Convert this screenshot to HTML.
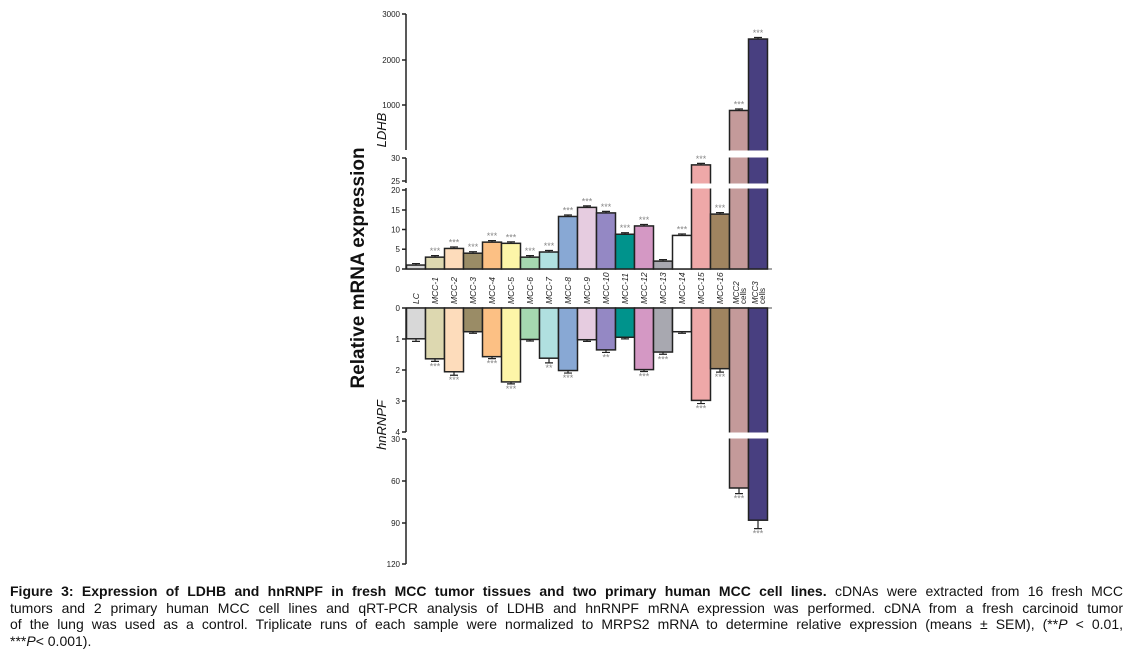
<!DOCTYPE html>
<html><head><meta charset="utf-8"><style>
body{margin:0;background:#fff;width:1133px;height:655px;overflow:hidden;font-family:"Liberation Sans",sans-serif}
#cap{position:absolute;left:10px;top:583px;width:1113px;font-size:14px;line-height:16.7px;color:#111}
#cap div{text-align:justify;text-align-last:justify;white-space:nowrap}
#cap div.l{text-align-last:left}
</style></head><body>
<svg id="s" width="1133" height="575" style="position:absolute;left:0;top:0" font-family="Liberation Sans, sans-serif"></svg>
<div id="cap">
<div><b>Figure 3: Expression of LDHB and hnRNPF in fresh MCC tumor tissues and two primary human MCC cell lines.</b> cDNAs were extracted from 16 fresh MCC</div>
<div>tumors and 2 primary human MCC cell lines and qRT-PCR analysis of LDHB and hnRNPF mRNA expression was performed. cDNA from a fresh carcinoid tumor</div>
<div>of the lung was used as a control. Triplicate runs of each sample were normalized to MRPS2 mRNA to determine relative expression (means ± SEM), (**<i>P</i> &lt; 0.01,</div>
<div class="l">***<i>P</i>&lt; 0.001).</div>
</div>
<script>
(function(){
var names=["LC","MCC-1","MCC-2","MCC-3","MCC-4","MCC-5","MCC-6","MCC-7","MCC-8","MCC-9","MCC-10","MCC-11","MCC-12","MCC-13","MCC-14","MCC-15","MCC-16","MCC2|cells","MCC3|cells"];
var cols=["#d8d8d8","#ddd8b0","#fddcbb","#9a8c66","#fcc084","#fdf5a8","#a5d8b0","#b0e0e0","#88a8d4","#e6cce0","#9488c4","#00938c","#d498c4","#a8a8b0","#ffffff","#eea8a8","#a08460","#c49a9a","#483f80"];
var tv=[1,3,5.2,4,6.8,6.5,3,4.3,13.3,15.6,14.2,8.8,10.9,2,8.5,28.5,13.9,880,2450];
var ts=["","***","***","***","***","***","***","***","***","***","***","***","***","","***","***","***","***","***"];
var bv=[1,1.65,2.07,0.77,1.58,2.4,1.02,1.63,2.03,1.03,1.36,0.95,2.0,1.43,0.77,3.0,1.97,65,88];
var bs=["","***","***","","***","***","","**","***","","**","","***","***","","***","***","***","***"];
var berr=[.05,.05,.08,.02,.03,.03,.02,.12,.05,.02,.05,.02,.03,.04,.02,.07,.08,4,6];
function ty(v){return v<=20?269-v*3.95:(v<=30?181-(v-25)*4.6:105-(v-1000)*0.0455);}
function by(v){return v<=4?308+v*30.8:439+(v-30)*1.4;}
var h='';
var X0=406.5,W=19;
h+='<g stroke="#222" stroke-width="1.5" fill="none"><path d="M406 14V150M406 158V183M406 188V269M406 308V432M406 439V564"/>';
[14,60,105,158,181,190,210,229.5,249.2,269].forEach(function(y){h+='<path d="M402 '+y+'H406"/>';});
[308,339,370,401,432,439,481,523,564].forEach(function(y){h+='<path d="M402 '+y+'H406"/>';});
h+='<path d="M406 269H772" stroke="#888"/><path d="M406 308H772" stroke="#888"/></g>';
var tl=[[3000,14],[2000,60],[1000,105],[30,158],[25,181],[20,190],[15,210],[10,229.5],[5,249.2],[0,269]];
tl.forEach(function(t){h+='<text x="400" y="'+(t[1]+3)+'" font-size="8" text-anchor="end" fill="#222">'+t[0]+'</text>';});
[[0,308],[1,339],[2,370],[3,401],[4,432],[30,439],[60,481],[90,523],[120,564]].forEach(function(t){h+='<text x="400" y="'+(t[1]+3)+'" font-size="8" text-anchor="end" fill="#222">'+t[0]+'</text>';});
for(var i=0;i<19;i++){
 var x=X0+i*W,cx=x+W/2;
 var y=ty(tv[i]);
 h+='<rect x="'+x+'" y="'+y+'" width="'+W+'" height="'+(269-y)+'" fill="'+cols[i]+'" stroke="#222" stroke-width="1.5"/>';
 h+='<path d="M'+cx+' '+y+'V'+(y-1.5)+'M'+(cx-4)+' '+(y-1.5)+'H'+(cx+4)+'" stroke="#222" stroke-width="1.2"/>';
 if(tv[i]>20){h+='<rect x="'+(x-1)+'" y="183.5" width="'+(W+2)+'" height="5" fill="#fff"/>';}
 if(tv[i]>30){h+='<rect x="'+(x-1)+'" y="150.5" width="'+(W+2)+'" height="7" fill="#fff"/>';}
 if(ts[i])h+='<text x="'+cx+'" y="'+(y-3)+'" font-size="9" text-anchor="middle" fill="#888">'+ts[i]+'</text>';
 var b=by(bv[i]);
 h+='<rect x="'+x+'" y="308" width="'+W+'" height="'+(b-308)+'" fill="'+cols[i]+'" stroke="#222" stroke-width="1.5"/>';
 var e=bv[i]>4?by(bv[i]+berr[i]):b+berr[i]*30.8+1;
 h+='<path d="M'+cx+' '+b+'V'+e+'M'+(cx-4)+' '+e+'H'+(cx+4)+'" stroke="#222" stroke-width="1.2"/>';
 if(bv[i]>4)h+='<rect x="'+(x-1)+'" y="432.5" width="'+(W+2)+'" height="6" fill="#fff"/>';
 if(bs[i])h+='<text x="'+cx+'" y="'+(e+8)+'" font-size="9" text-anchor="middle" fill="#888">'+bs[i]+'</text>';
 var n=names[i].split('|');
 if(n.length==1)h+='<text transform="translate('+(cx+3)+',304) rotate(-90)" font-size="8.5" font-style="italic" fill="#222">'+n[0]+'</text>';
 else{h+='<text transform="translate('+cx+',304) rotate(-90)" font-size="8" font-style="italic" fill="#222">'+n[0]+'</text><text transform="translate('+(cx+7)+',304) rotate(-90)" font-size="8" fill="#222">'+n[1]+'</text>';}
}
h+='<text transform="translate(364,268) rotate(-90)" font-size="19" font-weight="bold" text-anchor="middle" fill="#111">Relative mRNA expression</text>';
h+='<text transform="translate(386,130) rotate(-90)" font-size="13" font-style="italic" text-anchor="middle" fill="#111">LDHB</text>';
h+='<text transform="translate(386,425) rotate(-90)" font-size="13" font-style="italic" text-anchor="middle" fill="#111">hnRNPF</text>';
document.getElementById('s').innerHTML=h;
})();
</script>
</body></html>
